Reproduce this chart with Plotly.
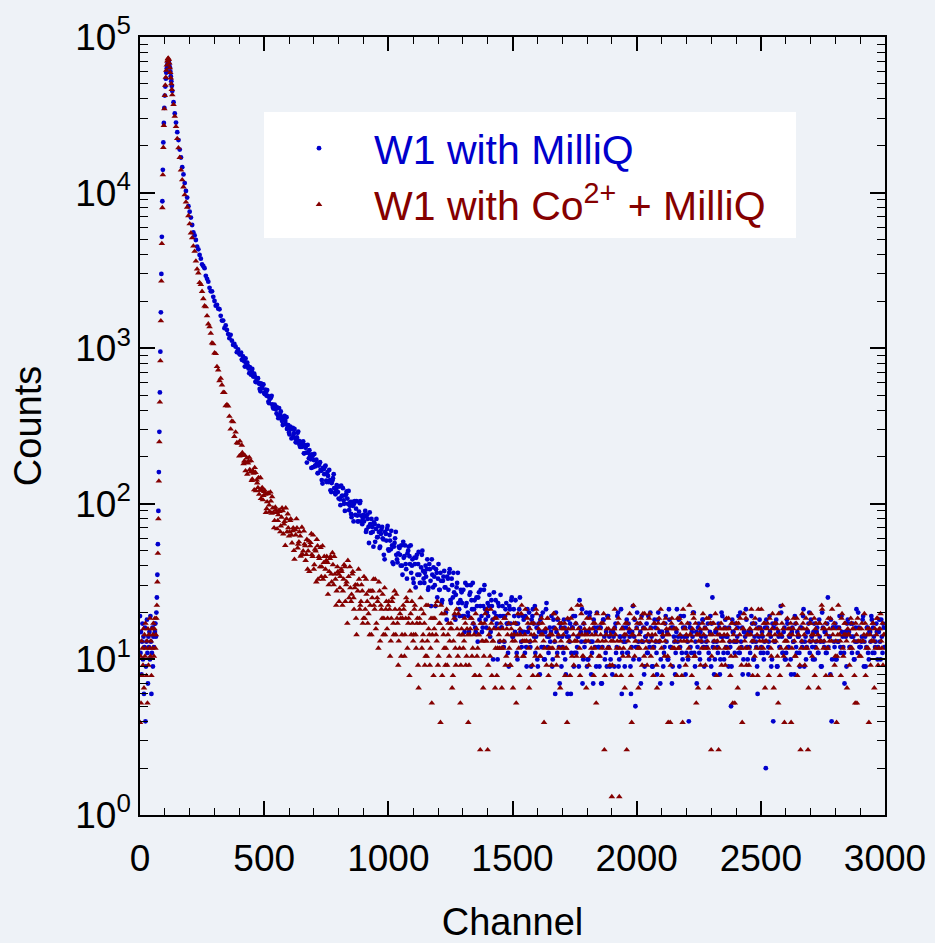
import plotly.graph_objects as go

# ---------------- data ----------------
# channel positions (x categories)
ch_pre = list(range(0, 61, 2))
ch_rise = list(range(62, 131, 2))
ch_decay = list(range(135, 401, 5))
ch_tail = list(range(405, 3000, 5))
ch_tail_b = list(range(402, 3000, 5))
channels = ch_pre + ch_rise + ch_decay + ch_tail + ch_tail_b

# W1 with MilliQ (blue)
blue_pre = [19, 11, 15, 8, 13, 17, 10, 14, 6, 12, 16, 4, 9, 13, 18, 11, 7, 14, 12, 15,
            10, 19, 13, 6, 11, 16, 9, 14, 12, 17, 15]
blue_rise = [17, 14, 20, 25, 35, 55, 90, 160, 290, 520, 950, 1700, 3000, 5200, 8800,
             14000, 21000, 28000, 35000, 42000, 48000, 54000, 59000, 63000, 66500,
             69000, 70000, 69000, 67000, 64000, 60000, 56000, 52000, 48500, 45000]
blue_decay = [38100, 32280, 28170, 24450, 21760, 18890, 16810, 14570, 13080, 11520,
              10240, 9290, 8170, 7530, 6910, 6190, 5550, 5310, 4960, 4500,
              4320, 3975, 3760, 3460, 3365, 3270, 2920, 2790, 2675, 2445,
              2320, 2320, 2140, 2010, 1875, 1900, 1795, 1780, 1615, 1505,
              1505, 1345, 1400, 1310, 1232, 1160, 1218, 1118, 1050, 1064,
              1023, 943, 981, 924]
blue_tail = [919, 845, 885, 823, 859, 764, 767, 691, 740, 705,
             665, 685, 609, 635, 642, 591, 529, 580, 583, 515,
             542, 494, 493, 443, 476, 494, 419, 422, 424, 381,
             372, 412, 372, 351, 321, 360, 341, 360, 312, 287,
             313, 263, 307, 284, 264, 248, 286, 254, 232, 249,
             240, 211, 238, 213, 239, 196, 203, 170, 203, 191,
             176, 192, 157, 176, 185, 163, 135, 167, 173, 141,
             160, 138, 142, 119, 141, 155, 118, 123, 129, 108,
             107, 131, 113, 105, 90, 115, 108, 121, 97, 86,
             103, 77, 104, 93, 84, 77, 101, 84, 74, 85,
             83, 66, 85, 71, 88, 65, 71, 53, 74, 69,
             61, 72, 52, 64, 71, 59, 44, 64, 69, 51,
             63, 51, 54, 41, 56, 66, 44, 48, 52, 40,
             40, 57, 46, 41, 33, 50, 46, 54, 40, 33,
             45, 29, 47, 41, 35, 31, 47, 37, 31, 40,
             38, 28, 41, 32, 44, 29, 34, 22, 36, 33,
             28, 36, 23, 32, 37, 29, 18, 33, 36, 24,
             33, 25, 27, 18, 29, 36, 21, 24, 27, 19,
             19, 31, 23, 20, 15, 27, 24, 31, 21, 16,
             25, 13, 27, 22, 19, 16, 28, 21, 16, 23,
             22, 14, 24, 18, 27, 16, 19, 10, 22, 19,
             16, 22, 12, 19, 23, 17, 9, 21, 24, 14,
             21, 15, 17, 10, 19, 25, 13, 15, 18, 11,
             12, 21, 16, 13, 9, 19, 17, 22, 14, 10,
             17, 8, 19, 15, 12, 10, 21, 14, 11, 16,
             15, 9, 18, 13, 20, 11, 14, 7, 16, 14,
             11, 16, 8, 14, 18, 13, 6, 16, 19, 11,
             17, 12, 14, 24, 15, 21, 10, 12, 15, 9,
             10, 19, 13, 11, 7, 16, 15, 20, 12, 9,
             16, 7, 18, 14, 11, 9, 19, 14, 10, 15,
             15, 9, 17, 12, 20, 10, 14, 6, 16, 14,
             13, 18, 11, 15, 9, 12, 22, 14, 5, 16,
             12, 10, 15, 19, 13, 8, 14, 17, 11, 13,
             20, 14, 9, 12, 16, 11, 18, 13, 7, 15,
             14, 11, 17, 13, 10, 21, 12, 16, 9, 14,
             8, 15, 13, 18, 12, 14, 10, 19, 16, 11,
             13, 4, 16, 11, 14, 20, 9, 15, 12, 17,
             10, 14, 18, 12, 16, 13, 30, 11, 15, 9,
             25, 13, 10, 15, 12, 17, 8, 14, 19, 11,
             16, 12, 14, 9, 13, 5, 18, 15, 11, 13,
             14, 19, 11, 13, 16, 10, 15, 21, 12, 8,
             12, 15, 17, 10, 14, 13, 9, 16, 18, 11,
             15, 11, 13, 2, 16, 12, 19, 14, 10, 4,
             13, 17, 9, 15, 12, 22, 14, 11, 16, 10,
             18, 12, 14, 10, 15, 13, 8, 17, 11, 14,
             11, 16, 13, 19, 9, 14, 12, 15, 20, 13,
             14, 10, 17, 12, 15, 11, 18, 13, 9, 16,
             12, 15, 11, 25, 14, 8, 4, 16, 13, 17,
             10, 13, 16, 12, 19, 14, 11, 15, 9, 18,
             15, 12, 14, 17, 10, 13, 21, 11, 16, 12,
             13, 18, 9, 14, 12, 16, 10, 15, 19, 11,
             14, 12, 17, 10, 15, 13, 18, 11, 16]
blue_tail_b = [911, 936, 840, 862, 762, 804, 806, 740, 756, 676,
               735, 656, 662, 606, 639, 600, 547, 594, 554, 585,
               507, 521, 538, 452, 472, 483, 436, 409, 434, 405,
               416, 355, 373, 392, 341, 359, 367, 325, 303, 320,
               279, 301, 304, 271, 303, 249, 267, 291, 240, 243,
               232, 252, 211, 229, 184, 213, 221, 193, 208, 172,
               209, 174, 182, 158, 180, 165, 142, 170, 155, 176,
               138, 151, 165, 122, 136, 146, 126, 115, 132, 119,
               129, 98, 112, 126, 100, 113, 120, 100, 91, 103,
               82, 97, 100, 85, 104, 77, 89, 104, 77, 81,
               77, 90, 68, 80, 56, 74, 80, 66, 76, 57,
               80, 61, 66, 53, 68, 60, 47, 66, 58, 72,
               50, 58, 67, 42, 53, 60, 47, 42, 53, 47,
               54, 35, 45, 54, 38, 48, 53, 41, 36, 44,
               31, 41, 45, 35, 49, 31, 39, 50, 33, 36,
               34, 44, 29, 38, 22, 35, 39, 30, 38, 25,
               41, 28, 32, 24, 34, 29, 20, 34, 28, 38,
               23, 30, 36, 19, 26, 31, 23, 19, 28, 23,
               28, 15, 22, 30, 19, 26, 30, 21, 17, 24,
               15, 22, 25, 18, 28, 15, 22, 30, 18, 20,
               19, 26, 15, 22, 10, 20, 24, 17, 23, 13,
               26, 16, 19, 13, 21, 17, 11, 22, 17, 25,
               14, 19, 24, 11, 17, 21, 15, 12, 19, 15,
               19, 9, 15, 20, 12, 18, 21, 14, 11, 16,
               9, 15, 18, 12, 20, 10, 15, 23, 12, 14,
               13, 19, 10, 16, 6, 15, 18, 12, 17, 9,
               12, 18, 10, 15, 6, 14, 17, 11, 16, 9,
               19, 11, 14, 9, 16, 13, 7, 17, 13, 20,
               10, 15, 20, 8, 13, 18, 12, 9, 16, 12,
               16, 7, 12, 18, 10, 15, 19, 12, 9, 15,
               8, 14, 16, 11, 19, 9, 14, 21, 11, 13,
               9, 16, 11, 17, 14, 6, 15, 10, 18, 12,
               20, 13, 17, 7, 13, 16, 9, 14, 11, 19,
               12, 16, 9, 12, 18, 13, 8, 20, 15, 10,
               15, 9, 12, 19, 15, 10, 18, 12, 7, 16,
               13, 11, 21, 14, 9, 19, 11, 16, 14, 8,
               14, 10, 17, 12, 15, 20, 11, 13, 7, 16,
               11, 15, 13, 18, 9, 14, 12, 17, 10, 19,
               17, 12, 8, 15, 13, 11, 16, 10, 20, 14,
               10, 18, 14, 11, 16, 12, 9, 15, 13, 17,
               13, 16, 11, 20, 12, 8, 15, 14, 18, 10,
               15, 11, 19, 13, 10, 17, 12, 6, 14, 16,
               12, 14, 10, 16, 18, 11, 13, 15, 9, 17,
               16, 13, 18, 9, 14, 12, 20, 11, 15, 10,
               11, 17, 12, 14, 8, 16, 13, 19, 12, 15,
               14, 9, 16, 12, 21, 13, 10, 15, 17, 11,
               18, 12, 15, 10, 13, 16, 11, 14, 9, 20,
               13, 15, 11, 17, 12, 14, 18, 10, 16, 12,
               10, 16, 13, 19, 11, 15, 12, 7, 14, 17,
               15, 12, 17, 11, 14, 10, 16, 13, 20, 12,
               12, 14, 19, 13, 9, 16, 11, 15, 13, 18,
               16, 11, 13, 15, 12, 18, 10, 14, 17, 12]
blue_counts = blue_pre + blue_rise + blue_decay + blue_tail + blue_tail_b

# W1 with Co2+ + MilliQ (dark red)
red_pre = [3.93, 10.48, 5.24, 13.1, 7.86, 11.79, 9.17, 15.72, 6.55, 14.41, 10.48, 17.03,
           11.79, 7.86, 13.1, 5.24, 15.72, 9.17, 14.41, 11.79, 18.34, 10.48, 13.1, 7.86,
           15.72, 11.79, 14.41, 17.03, 10.48, 15.72, 18.34]
red_rise = [11.79, 14.41, 18.34, 22.27, 31.44, 48, 80, 140, 250, 450, 830, 1500, 2700, 4700,
            8000, 13000, 19500, 27000, 34500, 42000, 49000, 55000, 61000, 66000, 70000,
            72500, 73000, 71500, 68000, 63500, 59000, 54500, 50000, 46000, 42500]
red_decay = [36740, 30920, 26540, 22240, 19400, 16810, 13980, 12075, 10860, 9676,
             8693, 8053, 7100, 6295, 5504, 5123, 4531, 4189, 3629, 3221,
             3044, 2642, 2568, 2316, 2078, 1869, 1842, 1615, 1432, 1371,
             1247, 1080, 1067, 932, 923, 762, 724, 618, 640, 580,
             519, 518, 426, 434, 425, 365, 302, 340, 336, 271,
             289, 247, 245, 203]
red_tail = [204, 238, 205, 188, 163, 197, 183, 199, 160, 141,
            163, 123, 159, 142, 127, 115, 147, 122, 106, 120,
            115, 93, 116, 98, 119, 87, 94, 70, 95, 88,
            78, 91, 66, 82, 90, 74, 54, 80, 86, 62,
            78, 63, 67, 50, 68, 80, 52, 57, 62, 47,
            47.16, 66.81, 53.71, 47.16, 37.99, 57.64, 53.71, 64.19, 45.85, 37.99,
            51.09, 31.44, 53.71, 45.85, 39.3, 34.06, 53.71, 41.92, 34.06, 43.23,
            41.92, 30.13, 44.54, 35.37, 48.47, 30.13, 35.37, 22.27, 39.3, 35.37,
            28.82, 37.99, 22.27, 32.75, 39.3, 30.13, 17.03, 34.06, 39.3, 23.58,
            35.37, 24.89, 28.82, 18.34, 30.13, 37.99, 20.96, 23.58, 27.51, 18.34,
            18.34, 32.75, 23.58, 19.65, 14.41, 27.51, 24.89, 32.75, 20.96, 15.72,
            24.89, 11.79, 27.51, 22.27, 18.34, 14.41, 28.82, 20.96, 15.72, 22.27,
            20.96, 13.1, 23.58, 17.03, 27.51, 14.41, 18.34, 9.17, 20.96, 18.34,
            14.41, 22.27, 10.48, 18.34, 23.58, 17.03, 7.86, 19.65, 23.58, 13.1,
            20.96, 14.41, 17.03, 9.17, 18.34, 24.89, 11.79, 14.41, 17.03, 10.48,
            10.48, 22.27, 14.41, 11.79, 5.24, 18.34, 15.72, 22.27, 13.1, 9.17,
            17.03, 3.93, 19.65, 15.72, 11.79, 9.17, 20.96, 14.41, 10.48, 15.72,
            15.72, 7.86, 18.34, 11.79, 20.96, 10.48, 14.41, 5.24, 15.72, 14.41,
            13.1, 17.03, 10.48, 14.41, 9.17, 15.72, 18.34, 11.79, 14.41, 7.86,
            15.72, 11.79, 14.41, 2.62, 17.03, 13.1, 10.48, 19.65, 13.1, 2.62,
            14.41, 10.48, 17.03, 13.1, 15.72, 6.55, 18.34, 11.79, 14.41, 13.1,
            11.79, 15.72, 13.1, 18.34, 10.48, 14.41, 17.03, 9.17, 15.72, 13.1,
            17.03, 13.1, 5.24, 14.41, 11.79, 15.72, 19.65, 13.1, 10.48, 14.41,
            13.1, 18.34, 11.79, 15.72, 14.41, 9.17, 17.03, 13.1, 20.96, 11.79,
            15.72, 10.48, 14.41, 17.03, 13.1, 11.79, 15.72, 18.34, 7.86, 14.41,
            11.79, 14.41, 19.65, 13.1, 15.72, 10.48, 14.41, 17.03, 13.1, 15.72,
            14.41, 17.03, 11.79, 3.93, 15.72, 13.1, 18.34, 10.48, 14.41, 13.1,
            17.03, 13.1, 15.72, 11.79, 22.27, 14.41, 10.48, 15.72, 13.1, 18.34,
            13.1, 15.72, 10.48, 14.41, 17.03, 11.79, 14.41, 19.65, 13.1, 15.72,
            14.41, 11.79, 17.03, 2.62, 13.1, 15.72, 18.34, 11.79, 14.41, 1.31,
            13.1, 15.72, 14.41, 11.79, 17.03, 1.31, 13.1, 15.72, 10.48, 14.41,
            17.03, 2.62, 13.1, 15.72, 11.79, 3.93, 14.41, 18.34, 13.1, 15.72,
            11.79, 14.41, 17.03, 13.1, 19.65, 10.48, 15.72, 13.1, 14.41, 18.34,
            15.72, 13.1, 11.79, 17.03, 14.41, 9.17, 15.72, 18.34, 13.1, 11.79,
            14.41, 17.03, 13.1, 15.72, 10.48, 14.41, 3.93, 17.03, 11.79, 15.72,
            13.1, 15.72, 18.34, 11.79, 14.41, 17.03, 3.93, 13.1, 15.72, 14.41,
            17.03, 11.79, 14.41, 13.1, 15.72, 18.34, 10.48, 5.24, 14.41, 13.1,
            15.72, 13.1, 17.03, 14.41, 11.79, 15.72, 13.1, 18.34, 14.41, 2.62,
            14.41, 17.03, 11.79, 15.72, 13.1, 2.62, 14.41, 17.03, 13.1, 15.72,
            11.79, 15.72, 14.41, 18.34, 13.1, 10.48, 17.03, 14.41, 5.24, 15.72,
            13.1, 17.03, 14.41, 11.79, 3.93, 15.72, 13.1, 18.34, 14.41, 11.79,
            15.72, 14.41, 13.1, 17.03, 10.48, 15.72, 14.41, 20.96, 13.1, 15.72,
            14.41, 11.79, 17.03, 13.1, 15.72, 14.41, 18.34, 11.79, 15.72, 13.1,
            17.03, 13.1, 15.72, 5.24, 14.41, 11.79, 17.03, 15.72, 3.93, 13.1,
            13.1, 15.72, 14.41, 17.03, 11.79, 15.72, 13.1, 10.48, 18.34, 14.41,
            15.72, 2.62, 13.1, 17.03, 14.41, 11.79, 15.72, 2.62, 13.1, 17.03,
            14.41, 13.1, 18.34, 15.72, 11.79, 14.41, 17.03, 13.1, 22.27, 15.72,
            13.1, 17.03, 14.41, 11.79, 15.72, 18.34, 13.1, 14.41, 17.03, 10.48,
            3.93, 14.41, 15.72, 13.1, 18.34, 11.79, 14.41, 17.03, 13.1, 15.72,
            14.41, 11.79, 17.03, 15.72, 13.1, 5.24, 14.41, 18.34, 15.72, 13.1,
            15.72, 13.1, 14.41, 17.03, 11.79, 15.72, 3.93, 14.41, 13.1, 17.03,
            13.1, 15.72, 14.41, 18.34, 11.79, 15.72, 13.1, 17.03, 14.41]
red_tail_b = [253, 206, 213, 181, 205, 184, 155, 188, 166, 189,
              144, 157, 171, 121, 136, 147, 122, 108, 127, 113,
              122, 88, 103, 117, 89, 104, 111, 88, 78, 91,
              69, 85, 89, 72, 94, 64, 77, 94, 66, 70,
              66, 80, 56, 70, 44, 63, 70, 55, 66, 46,
              70.74, 49.78, 55.02, 43.23, 58.95, 49.78, 36.68, 56.33, 47.16, 62.88,
              40.61, 49.78, 58.95, 32.75, 44.54, 52.4, 39.3, 32.75, 45.85, 37.99,
              45.85, 26.2, 36.68, 45.85, 31.44, 40.61, 45.85, 32.75, 27.51, 36.68,
              23.58, 34.06, 36.68, 27.51, 40.61, 23.58, 31.44, 43.23, 24.89, 28.82,
              26.2, 36.68, 20.96, 30.13, 14.41, 27.51, 32.75, 22.27, 30.13, 17.03,
              34.06, 20.96, 26.2, 17.03, 27.51, 22.27, 14.41, 27.51, 22.27, 32.75,
              17.03, 23.58, 31.44, 13.1, 20.96, 26.2, 18.34, 14.41, 23.58, 18.34,
              23.58, 10.48, 18.34, 24.89, 14.41, 20.96, 26.2, 17.03, 13.1, 19.65,
              10.48, 18.34, 20.96, 14.41, 24.89, 11.79, 18.34, 27.51, 14.41, 17.03,
              14.41, 22.27, 11.79, 18.34, 6.55, 17.03, 20.96, 13.1, 19.65, 9.17,
              22.27, 13.1, 15.72, 9.17, 18.34, 14.41, 7.86, 18.34, 14.41, 23.58,
              10.48, 17.03, 22.27, 7.86, 14.41, 19.65, 11.79, 9.17, 17.03, 13.1,
              17.03, 6.55, 13.1, 19.65, 9.17, 15.72, 19.65, 11.79, 9.17, 14.41,
              11.79, 18.34, 9.17, 15.72, 3.93, 14.41, 18.34, 10.48, 17.03, 7.86,
              19.65, 10.48, 14.41, 7.86, 17.03, 13.1, 6.55, 17.03, 13.1, 20.96,
              9.17, 15.72, 20.96, 7.86, 13.1, 18.34, 11.79, 7.86, 15.72, 11.79,
              17.03, 6.55, 11.79, 18.34, 9.17, 15.72, 19.65, 11.79, 9.17, 14.41,
              6.55, 14.41, 17.03, 10.48, 19.65, 7.86, 14.41, 22.27, 10.48, 13.1,
              20.96, 13.1, 17.03, 6.55, 13.1, 17.03, 7.86, 14.41, 10.48, 19.65,
              7.86, 17.03, 10.48, 18.34, 14.41, 3.93, 15.72, 9.17, 18.34, 11.79,
              14.41, 9.17, 11.79, 19.65, 15.72, 9.17, 18.34, 11.79, 6.55, 17.03,
              11.79, 15.72, 7.86, 11.79, 18.34, 13.1, 7.86, 20.96, 15.72, 9.17,
              13.1, 10.48, 22.27, 14.41, 7.86, 19.65, 10.48, 17.03, 14.41, 6.55,
              14.41, 9.17, 18.34, 11.79, 15.72, 7.86, 17.03, 5.24, 13.1, 10.48,
              10.48, 17.03, 13.1, 19.65, 7.86, 14.41, 11.79, 15.72, 9.17, 13.1,
              9.17, 15.72, 20.96, 7.86, 13.1, 18.34, 11.79, 7.86, 15.72, 11.79,
              6.55, 14.41, 17.03, 10.48, 19.65, 7.86, 14.41, 22.27, 10.48, 13.1,
              17.03, 6.55, 11.79, 18.34, 9.17, 15.72, 19.65, 11.79, 9.17, 14.41,
              19.65, 10.48, 14.41, 7.86, 17.03, 13.1, 6.55, 17.03, 13.1, 20.96,
              7.86, 17.03, 10.48, 18.34, 14.41, 3.93, 15.72, 9.17, 18.34, 11.79,
              11.79, 15.72, 7.86, 11.79, 18.34, 13.1, 7.86, 20.96, 15.72, 9.17,
              13.1, 10.48, 22.27, 14.41, 7.86, 19.65, 10.48, 17.03, 14.41, 6.55,
              14.41, 9.17, 11.79, 19.65, 15.72, 9.17, 18.34, 11.79, 6.55, 17.03,
              10.48, 17.03, 13.1, 19.65, 7.86, 14.41, 11.79, 15.72, 9.17, 13.1,
              14.41, 9.17, 18.34, 11.79, 15.72, 7.86, 17.03, 5.24, 13.1, 10.48,
              17.03, 6.55, 11.79, 18.34, 9.17, 15.72, 19.65, 11.79, 9.17, 14.41,
              9.17, 15.72, 20.96, 7.86, 13.1, 18.34, 11.79, 7.86, 15.72, 11.79,
              20.96, 13.1, 17.03, 6.55, 13.1, 17.03, 7.86, 14.41, 10.48, 19.65,
              6.55, 14.41, 17.03, 10.48, 19.65, 7.86, 14.41, 22.27, 10.48, 13.1,
              11.79, 18.34, 9.17, 15.72, 3.93, 14.41, 18.34, 10.48, 17.03, 7.86,
              14.41, 9.17, 11.79, 19.65, 15.72, 9.17, 18.34, 11.79, 6.55, 17.03,
              19.65, 10.48, 14.41, 7.86, 17.03, 13.1, 6.55, 17.03, 13.1, 20.96,
              11.79, 15.72, 7.86, 11.79, 18.34, 13.1, 7.86, 20.96, 15.72, 9.17,
              13.1, 10.48, 22.27, 14.41, 7.86, 19.65, 10.48, 17.03, 14.41, 6.55,
              14.41, 9.17, 18.34, 11.79, 15.72, 7.86, 17.03, 5.24, 13.1, 10.48,
              10.48, 17.03, 13.1, 19.65, 7.86, 14.41, 11.79, 15.72, 9.17, 13.1,
              17.03, 6.55, 11.79, 18.34, 9.17, 15.72, 19.65, 11.79, 9.17, 14.41]
red_counts = red_pre + red_rise + red_decay + red_tail + red_tail_b

x_ticks = [0, 500, 1000, 1500, 2000, 2500, 3000]
y_ticks = [1, 10, 100, 1000, 10000, 100000]
y_ticktext = ['10<sup>0</sup>', '10<sup>1</sup>', '10<sup>2</sup>',
              '10<sup>3</sup>', '10<sup>4</sup>', '10<sup>5</sup>']
y_minor = [m * 10 ** k for k in range(5) for m in range(2, 10)]

BLUE = '#0000CC'
RED = '#850000'
FONT = 'Liberation Sans, Arial, sans-serif'

# ---------------- figure ----------------
fig = go.Figure()
fig.add_trace(go.Scatter(
    x=channels, y=blue_counts, mode='markers',
    name='<span style="color:%s">W1 with MilliQ</span>' % BLUE,
    marker=dict(symbol='circle', size=4.8, color=BLUE, line=dict(width=0))))
fig.add_trace(go.Scatter(
    x=channels, y=red_counts, mode='markers',
    name='<span style="color:%s">W1 with Co<sup>2+</sup> + MilliQ</span>' % RED,
    marker=dict(symbol='triangle-up', size=5.8, color=RED, line=dict(width=0))))

L, R, T, B = 140, 50, 37, 128
W, H = 935, 943
pw, ph = W - L - R, H - T - B

def px_x(p):
    return (p - L) / pw

def px_y(p):
    return (H - B - p) / ph

fig.add_shape(type='rect', xref='paper', yref='paper',
              x0=px_x(264), x1=px_x(796), y0=px_y(238), y1=px_y(112),
              fillcolor='white', line=dict(width=0), layer='below')

axis_common = dict(
    showline=True, linecolor='black', linewidth=1.5, mirror='ticks',
    ticks='inside', tickcolor='black', tickwidth=1.5,
    showgrid=False, zeroline=False,
    tickfont=dict(family=FONT, size=37, color='black'),
)

fig.update_layout(
    width=W, height=H,
    margin=dict(l=L, r=R, t=T, b=B),
    paper_bgcolor='#eef2f7', plot_bgcolor='rgba(0,0,0,0)',
    font=dict(family=FONT, color='black'),
    showlegend=True,
    legend=dict(x=px_x(264), y=px_y(115), xanchor='left', yanchor='top',
                bgcolor='rgba(0,0,0,0)', borderwidth=0,
                font=dict(family=FONT, size=41),
                itemwidth=100, tracegroupgap=0),
    xaxis=dict(range=[0, 3000], tickmode='array', tickvals=x_ticks, ticklen=14,
               ticklabelstandoff=10,
               minor=dict(ticks='inside', dtick=100, ticklen=7, tickcolor='black', tickwidth=1),
               title=dict(text='Channel', font=dict(family=FONT, size=38), standoff=32),
               automargin=False, **axis_common),
    yaxis=dict(type='log', range=[0, 5], tickmode='array', tickvals=y_ticks,
               ticktext=y_ticktext, ticklen=15,
               minor=dict(ticks='inside', tickmode='array', tickvals=y_minor, ticklen=8,
                          tickcolor='black', tickwidth=1),
               title=dict(text='Counts', font=dict(family=FONT, size=38), standoff=22),
               automargin=False, **axis_common),
)

fig.write_html('out.html', config={'displayModeBar': False},
               post_script="document.body.style.margin='0px';"
                           "document.body.style.background='#eef2f7';")
